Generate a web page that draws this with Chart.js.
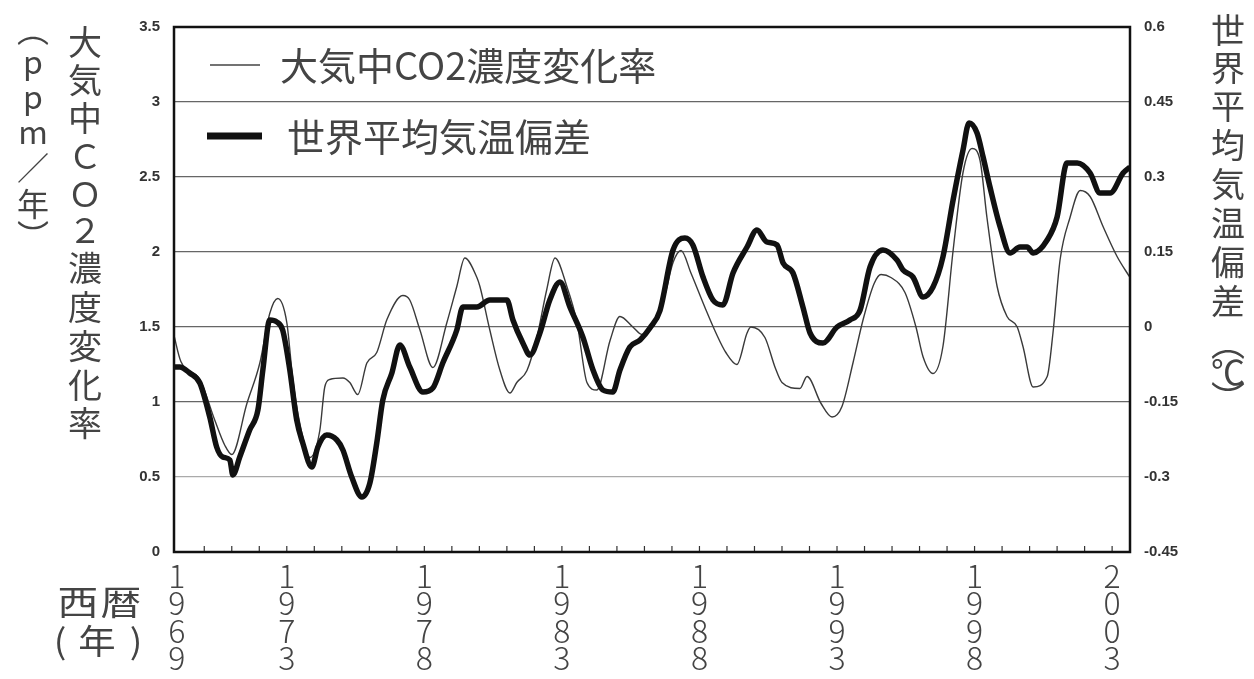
<!DOCTYPE html>
<html lang="ja">
<head>
<meta charset="utf-8">
<title>大気中CO2濃度変化率と世界平均気温偏差</title>
<script src="https://cdn.jsdelivr.net/npm/chart.js@4.4.1/dist/chart.umd.min.js"></script>
<style>
  html, body { margin: 0; padding: 0; background: #fff; }
  #wrap { position: relative; width: 1254px; height: 679px; }
</style>
</head>
<body>
<div id="wrap"><canvas id="co2TempChart"></canvas></div>
<script>
// 大気中CO2濃度変化率 (ppm/年)
const co2Years = [
    1968.89, 1969.15, 1969.84, 1970.38, 1970.75, 1971.00, 1971.55, 1972.02, 1972.38, 1972.67,
    1973.00, 1973.22, 1973.47, 1973.84, 1974.20, 1974.38, 1974.56, 1975.04, 1975.29, 1975.58,
    1975.91, 1976.27, 1976.64, 1977.22, 1977.47, 1977.84, 1978.31, 1978.82, 1979.18, 1979.47,
    1979.91, 1980.02, 1980.38, 1980.75, 1981.11, 1981.36, 1981.73, 1982.09, 1982.45, 1982.75,
    1983.18, 1983.55, 1983.91, 1984.27, 1984.75, 1985.11, 1985.58, 1985.91, 1986.42, 1986.75,
    1987.04, 1987.33, 1987.69, 1988.20, 1988.60, 1988.96, 1989.36, 1989.73, 1989.87, 1990.38,
    1990.75, 1991.00, 1991.65, 1991.91, 1992.42, 1992.82, 1993.18, 1993.58, 1993.95, 1994.35,
    1994.60, 1994.96, 1995.47, 1995.87, 1996.13, 1996.49, 1996.85, 1997.22, 1997.58, 1997.91,
    1998.20, 1998.45, 1998.82, 1999.18, 1999.55, 1999.76, 2000.13, 2000.64, 2000.85, 2001.11,
    2001.47, 2001.84, 2002.20, 2002.67, 2003.18, 2003.65
];
const co2Rates = [
    1.45, 1.27, 1.15, 0.88, 0.71, 0.65, 0.99, 1.26, 1.59, 1.69,
    1.53, 1.15, 0.86, 0.63, 0.81, 1.10, 1.15, 1.16, 1.13, 1.05,
    1.26, 1.33, 1.55, 1.71, 1.68, 1.48, 1.23, 1.53, 1.77, 1.96,
    1.83, 1.77, 1.48, 1.21, 1.06, 1.13, 1.21, 1.43, 1.75, 1.96,
    1.77, 1.53, 1.13, 1.08, 1.41, 1.57, 1.50, 1.45, 1.55, 1.72,
    1.93, 2.01, 1.86, 1.63, 1.46, 1.33, 1.25, 1.46, 1.50, 1.43,
    1.23, 1.13, 1.09, 1.17, 0.99, 0.90, 0.97, 1.26, 1.55, 1.79,
    1.85, 1.83, 1.73, 1.50, 1.30, 1.19, 1.37, 2.01, 2.53, 2.69,
    2.61, 2.23, 1.77, 1.57, 1.50, 1.37, 1.10, 1.17, 1.46, 1.95,
    2.23, 2.41, 2.37, 2.17, 1.97, 1.83
];

// 世界平均気温偏差 (℃)
const tempYears = [
    1968.89, 1969.11, 1969.47, 1969.84, 1970.20, 1970.45, 1970.67, 1970.93, 1971.04, 1971.29,
    1971.65, 1971.95, 1972.13, 1972.38, 1972.64, 1972.85, 1973.11, 1973.36, 1973.58, 1973.91,
    1974.13, 1974.45, 1974.82, 1975.04, 1975.36, 1975.73, 1976.02, 1976.27, 1976.49, 1976.82,
    1977.11, 1977.47, 1977.95, 1978.31, 1978.67, 1979.18, 1979.40, 1979.91, 1980.38, 1981.00,
    1981.22, 1981.58, 1981.84, 1982.20, 1982.56, 1982.93, 1983.29, 1983.76, 1984.13, 1984.49,
    1984.85, 1985.11, 1985.47, 1985.84, 1986.20, 1986.56, 1987.04, 1987.47, 1987.76, 1988.13,
    1988.49, 1988.85, 1989.22, 1989.73, 1990.09, 1990.45, 1990.82, 1991.04, 1991.40, 1991.76,
    1992.02, 1992.49, 1993.00, 1993.47, 1993.84, 1994.20, 1994.67, 1995.18, 1995.40, 1995.76,
    1996.13, 1996.49, 1996.85, 1997.22, 1997.58, 1997.80, 1998.09, 1998.31, 1998.56, 1998.93,
    1999.29, 1999.65, 1999.91, 2000.13, 2000.64, 2001.00, 2001.36, 2001.73, 2002.20, 2002.56,
    2002.93, 2003.40, 2003.65
];
const tempAnomalies = [
    -0.080, -0.080, -0.092, -0.112, -0.180, -0.240, -0.260, -0.266, -0.296, -0.260,
    -0.206, -0.166, -0.086, 0.014, 0.010, -0.006, -0.086, -0.186, -0.232, -0.280,
    -0.240, -0.216, -0.226, -0.246, -0.300, -0.340, -0.312, -0.232, -0.146, -0.092,
    -0.036, -0.080, -0.130, -0.122, -0.072, -0.006, 0.040, 0.040, 0.054, 0.054,
    0.014, -0.032, -0.056, -0.012, 0.054, 0.090, 0.040, -0.020, -0.086, -0.126,
    -0.130, -0.086, -0.040, -0.026, -0.002, 0.032, 0.154, 0.178, 0.164, 0.100,
    0.054, 0.044, 0.108, 0.160, 0.194, 0.170, 0.164, 0.128, 0.108, 0.040,
    -0.012, -0.032, 0.000, 0.014, 0.034, 0.120, 0.154, 0.134, 0.114, 0.100,
    0.060, 0.080, 0.140, 0.254, 0.354, 0.408, 0.388, 0.340, 0.280, 0.200,
    0.148, 0.160, 0.160, 0.148, 0.174, 0.220, 0.328, 0.328, 0.308, 0.268,
    0.268, 0.308, 0.320
];

// 目盛り
const yearLabels = [1969, 1973, 1978, 1983, 1988, 1993, 1998, 2003];
const co2Ticks = [0, 0.5, 1, 1.5, 2, 2.5, 3, 3.5];
const tempTicks = [-0.45, -0.3, -0.15, 0, 0.15, 0.3, 0.45, 0.6];

const JP_FONT = "'Noto Sans CJK JP', 'Noto Sans', sans-serif";
const NUM_FONT = "'Liberation Sans', 'DejaVu Sans', sans-serif";
const TEXT_COLOR = '#444';

/**
 * 1文字ずつ縦に並べて描く (縦書きの軸タイトル用)
 */
function drawColumn(ctx, chars, x, ys, size) {
    ctx.font = size + 'px ' + JP_FONT;
    ctx.textAlign = 'center';
    ctx.textBaseline = 'middle';
    ctx.fillStyle = TEXT_COLOR;
    chars.forEach((ch, i) => ctx.fillText(ch, x, ys[i]));
}

/**
 * 1文字ずつ横に並べて描く (横軸タイトル用)
 */
function drawRow(ctx, chars, xs, y, size, stretch) {
    ctx.font = size + 'px ' + JP_FONT;
    ctx.textAlign = 'center';
    ctx.textBaseline = 'middle';
    ctx.fillStyle = TEXT_COLOR;
    chars.forEach((ch, i) => {
        ctx.save();
        ctx.translate(xs[i], y);
        ctx.scale(stretch, 1);
        ctx.fillText(ch, 0, 0);
        ctx.restore();
    });
}

// 枠・年目盛り・凡例・軸タイトル
const decorPlugin = {
    id: 'decor',
    afterDraw(chart) {
        const ctx = chart.ctx;
        const area = chart.chartArea;
        const xScale = chart.scales.x;
        ctx.save();

        // 1年ごとの内向き目盛り
        ctx.strokeStyle = '#333';
        ctx.lineWidth = 1.2;
        for (let yr = 1970; yr <= 2003; yr++) {
            const px = xScale.getPixelForValue(yr);
            ctx.beginPath();
            ctx.moveTo(px, area.bottom);
            ctx.lineTo(px, area.bottom - 6);
            ctx.stroke();
        }

        // 外枠
        ctx.strokeStyle = '#111';
        ctx.lineWidth = 2.5;
        ctx.strokeRect(area.left, area.top, area.right - area.left, area.bottom - area.top);

        // 凡例
        ctx.strokeStyle = '#444';
        ctx.lineWidth = 1.4;
        ctx.beginPath();
        ctx.moveTo(210, 65);
        ctx.lineTo(260, 65);
        ctx.stroke();
        ctx.strokeStyle = '#111';
        ctx.lineWidth = 7;
        ctx.beginPath();
        ctx.moveTo(207, 136);
        ctx.lineTo(262, 136);
        ctx.stroke();
        ctx.font = '38px ' + JP_FONT;
        ctx.fillStyle = TEXT_COLOR;
        ctx.textAlign = 'left';
        ctx.textBaseline = 'middle';
        ctx.fillText(chart.data.datasets[0].label, 280, 66);
        ctx.fillText(chart.data.datasets[1].label, 287, 137);

        // 左軸タイトル
        drawColumn(ctx, ['︵', 'p', 'p', 'm', '／', '年', '︶'], 33,
            [30, 62, 97, 132, 168, 204, 236], 32);
        drawColumn(ctx, Array.from('大気中ＣＯ２濃度変化率'), 85,
            [42, 80, 118, 156, 194, 230, 268, 307, 346, 385, 423], 34);

        // 右軸タイトル
        drawColumn(ctx, Array.from('世界平均気温偏差︵℃︶'), 1228,
            [30, 68, 106, 145, 184, 223, 262, 301, 343, 372, 398], 34);

        // 横軸タイトル
        drawRow(ctx, ['西', '暦'], [78, 121], 602, 34, 1.2);
        drawRow(ctx, ['(', '年', ')'], [60, 97, 136], 641, 34, 1.1);

        ctx.restore();
    }
};

const chartData = {
    datasets: [{
        label: '大気中CO2濃度変化率',
        data: co2Years.map((yr, i) => ({ x: yr, y: co2Rates[i] })),
        yAxisID: 'y',
        borderColor: '#3a3a3a',
        borderWidth: 1.4,
        pointRadius: 0,
        cubicInterpolationMode: 'monotone',
        order: 2
    }, {
        label: '世界平均気温偏差',
        data: tempYears.map((yr, i) => ({ x: yr, y: tempAnomalies[i] })),
        yAxisID: 'y1',
        borderColor: '#111',
        borderWidth: 5.5,
        pointRadius: 0,
        cubicInterpolationMode: 'monotone',
        order: 1
    }]
};

const chartConfig = {
    type: 'line',
    data: chartData,
    options: {
        responsive: true,
        maintainAspectRatio: false,
        animation: false,
        layout: { padding: { top: 27, left: 0, right: 0, bottom: 0 } },
        plugins: {
            legend: { display: false },
            tooltip: { enabled: false }
        },
        scales: {
            x: {
                type: 'linear',
                min: 1968.9,
                max: 2003.65,
                afterBuildTicks: (scale) => { scale.ticks = yearLabels.map(v => ({ value: v })); },
                afterFit: (scale) => { scale.height = 127; },
                grid: { display: false, drawTicks: false },
                border: { display: false },
                ticks: {
                    autoSkip: false,
                    maxRotation: 0,
                    padding: 10,
                    color: TEXT_COLOR,
                    font: { family: JP_FONT, size: 32, weight: 300, lineHeight: 0.86 },
                    callback: (value) => String(value).split('')
                }
            },
            y: {
                position: 'left',
                min: 0,
                max: 3.5,
                afterBuildTicks: (scale) => { scale.ticks = co2Ticks.map(v => ({ value: v })); },
                afterFit: (scale) => { scale.width = 174; },
                grid: {
                    drawTicks: false,
                    color: (c) => c.tick && c.tick.value === 0.5 ? '#aaa' : '#666',
                    lineWidth: 1.3
                },
                border: { display: false },
                ticks: {
                    padding: 14,
                    color: '#333',
                    font: { family: NUM_FONT, size: 15, weight: 'bold' },
                    callback: (value) => String(value)
                }
            },
            y1: {
                position: 'right',
                min: -0.45,
                max: 0.6,
                afterBuildTicks: (scale) => { scale.ticks = tempTicks.map(v => ({ value: v })); },
                afterFit: (scale) => { scale.width = 124; },
                grid: { display: false, drawTicks: false },
                border: { display: false },
                ticks: {
                    padding: 14,
                    color: '#333',
                    font: { family: NUM_FONT, size: 15, weight: 'bold' },
                    callback: (value) => String(value)
                }
            }
        }
    },
    plugins: [decorPlugin]
};

new Chart(document.getElementById('co2TempChart'), chartConfig);
</script>
</body>
</html>
